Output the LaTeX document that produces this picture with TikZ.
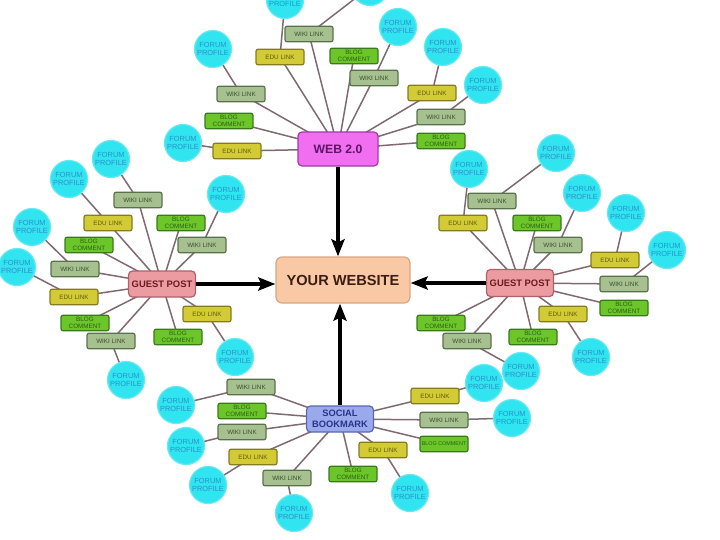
\documentclass[tikz,border=0pt]{standalone}
\usepackage{fontspec}
\setmainfont{Liberation Sans}
\usetikzlibrary{arrows.meta,calc}
\pgfdeclarelayer{bg}
\pgfsetlayers{bg,main}
\definecolor{wikif}{HTML}{A6C08F}
\definecolor{wikid}{HTML}{5A724C}
\definecolor{wikit}{HTML}{384F2C}
\definecolor{eduf}{HTML}{D3CB35}
\definecolor{edud}{HTML}{857C22}
\definecolor{edut}{HTML}{5E5810}
\definecolor{blogf}{HTML}{6CC62A}
\definecolor{blogd}{HTML}{3A7A1C}
\definecolor{blogt}{HTML}{2A5E14}
\definecolor{cyanf}{HTML}{30E4F0}
\definecolor{cyand}{HTML}{66E9F2}
\definecolor{cyant}{HTML}{2794CC}
\definecolor{linkc}{HTML}{806A72}
\definecolor{webf}{HTML}{F26EF0}
\definecolor{webd}{HTML}{A03AA8}
\definecolor{webt}{HTML}{5C1666}
\definecolor{gpf}{HTML}{EC9CA0}
\definecolor{gpd}{HTML}{B0606A}
\definecolor{gpt}{HTML}{6B1A1E}
\definecolor{sbf}{HTML}{9AA8EC}
\definecolor{sbd}{HTML}{5C68B0}
\definecolor{sbt}{HTML}{27358A}
\definecolor{sitef}{HTML}{F9C9A6}
\definecolor{sited}{HTML}{D9A684}
\definecolor{sitet}{HTML}{3B1E12}
\tikzset{
  leaf/.style={draw, rounded corners=2pt, line width=1.2pt, minimum width=48pt,
    minimum height=15.5pt, inner sep=0pt, align=center,
    font=\fontsize{6.3}{7.4}\selectfont},
  wikibox/.style={leaf, fill=wikif, draw=wikid, text=wikit},
  edubox/.style={leaf, fill=eduf, draw=edud, text=edut},
  blogbox/.style={leaf, fill=blogf, draw=blogd, text=blogt},
  blogone/.style={leaf, fill=blogf, draw=blogd, text=blogt, font=\fontsize{5.4}{6}\selectfont},
  forumc/.style={circle, fill=cyanf, draw=cyand, line width=1.2pt, minimum size=37pt,
    inner sep=0pt, align=center, text=cyant, font=\fontsize{7.4}{8.8}\selectfont},
  link/.style={draw=linkc, line width=1.5pt},
  hub/.style={draw, rounded corners=4pt, line width=1.2pt, inner sep=0pt, align=center},
  bigarrow/.style={line width=3.5pt, -{Stealth[length=17pt,width=13pt,inset=3pt]}}
}
\newcommand{\FP}{FORUM\\PROFILE}
\newcommand{\BC}{BLOG\\COMMENT}
\begin{document}
\begin{tikzpicture}[x=1pt,y=-1pt]
\useasboundingbox (0,0) rectangle (720,539);
% hubs
\node[hub, fill=sitef, draw=sited, text=sitet, minimum width=134pt, minimum height=46pt,
  rounded corners=6pt, font=\bfseries\fontsize{14.6}{16}\selectfont] (site) at (343,280) {YOUR WEBSITE};
\node[hub, fill=webf, draw=webd, text=webt, minimum width=80pt, minimum height=34pt,
  font=\bfseries\fontsize{12.2}{14}\selectfont] (web) at (338,149) {WEB 2.0};
\node[hub, fill=gpf, draw=gpd, text=gpt, minimum width=67pt, minimum height=26pt,
  font=\bfseries\fontsize{9.4}{11}\selectfont] (gpl) at (162,284) {GUEST POST};
\node[hub, fill=gpf, draw=gpd, text=gpt, minimum width=67pt, minimum height=27pt,
  font=\bfseries\fontsize{9.4}{11}\selectfont] (gpr) at (520,283) {GUEST POST};
\node[hub, fill=sbf, draw=sbd, text=sbt, minimum width=67pt, minimum height=26pt,
  font=\bfseries\fontsize{9.3}{11}\selectfont] (sb) at (340,419) {SOCIAL\\BOOKMARK};
% top cluster
\node[wikibox] (t1) at (309,34) {WIKI LINK};
\node[forumc] (t1c) at (370,-13) {\FP};
\node[edubox] (t2) at (280,57) {EDU LINK};
\node[forumc] (t2c) at (285,0) {\FP};
\node[blogbox] (t3) at (354,56) {\BC};
\node[wikibox] (t4) at (374,78) {WIKI LINK};
\node[forumc] (t4c) at (398,27) {\FP};
\node[edubox] (t5) at (432,93) {EDU LINK};
\node[forumc] (t5c) at (443,47) {\FP};
\node[wikibox] (t6) at (441,117) {WIKI LINK};
\node[forumc] (t6c) at (483,85) {\FP};
\node[blogbox] (t7) at (441,141) {\BC};
\node[wikibox] (t8) at (241,94) {WIKI LINK};
\node[forumc] (t8c) at (213,49) {\FP};
\node[blogbox] (t9) at (229,121) {\BC};
\node[edubox] (t10) at (237,151) {EDU LINK};
\node[forumc] (t10c) at (183,143) {\FP};
% left cluster
\node[wikibox] (l1) at (138,200) {WIKI LINK};
\node[forumc] (l1c) at (111,159) {\FP};
\node[edubox] (l2) at (108,223) {EDU LINK};
\node[forumc] (l2c) at (69,179) {\FP};
\node[blogbox] (l3) at (181,223) {\BC};
\node[wikibox] (l4) at (202,245) {WIKI LINK};
\node[forumc] (l4c) at (226,194) {\FP};
\node[blogbox] (l5) at (89,245) {\BC};
\node[wikibox] (l6) at (75,269) {WIKI LINK};
\node[forumc] (l6c) at (32,227) {\FP};
\node[edubox] (l7) at (74,297) {EDU LINK};
\node[forumc] (l7c) at (17,267) {\FP};
\node[blogbox] (l8) at (85,323) {\BC};
\node[wikibox] (l9) at (111,341) {WIKI LINK};
\node[forumc] (l9c) at (126,380) {\FP};
\node[blogbox] (l10) at (178,337) {\BC};
\node[edubox] (l11) at (207,314) {EDU LINK};
\node[forumc] (l11c) at (235,357) {\FP};
% right cluster
\node[edubox] (r1) at (463,223) {EDU LINK};
\node[forumc] (r1c) at (469,169) {\FP};
\node[wikibox] (r2) at (492,201) {WIKI LINK};
\node[forumc] (r2c) at (556,153) {\FP};
\node[blogbox] (r3) at (537,223) {\BC};
\node[wikibox] (r4) at (558,245) {WIKI LINK};
\node[forumc] (r4c) at (582,193) {\FP};
\node[edubox] (r5) at (615,260) {EDU LINK};
\node[forumc] (r5c) at (626,213) {\FP};
\node[wikibox] (r6) at (624,284) {WIKI LINK};
\node[forumc] (r6c) at (667,250) {\FP};
\node[blogbox] (r7) at (624,308) {\BC};
\node[edubox] (r8) at (563,314) {EDU LINK};
\node[forumc] (r8c) at (591,357) {\FP};
\node[blogbox] (r9) at (533,337) {\BC};
\node[wikibox] (r10) at (467,341) {WIKI LINK};
\node[forumc] (r10c) at (521,371) {\FP};
\node[blogbox] (r11) at (441,323) {\BC};
% bottom cluster
\node[edubox] (b1) at (435,396) {EDU LINK};
\node[forumc] (b1c) at (484,383) {\FP};
\node[wikibox] (b2) at (444,420) {WIKI LINK};
\node[forumc] (b2c) at (512,418) {\FP};
\node[blogone] (b3) at (444,444) {BLOG COMMENT};
\node[edubox] (b4) at (383,450) {EDU LINK};
\node[forumc] (b4c) at (410,493) {\FP};
\node[blogbox] (b5) at (353,474) {\BC};
\node[wikibox] (b6) at (251,387) {WIKI LINK};
\node[forumc] (b6c) at (176,405) {\FP};
\node[blogbox] (b7) at (242,411) {\BC};
\node[wikibox] (b8) at (242,432) {WIKI LINK};
\node[forumc] (b8c) at (186,446) {\FP};
\node[edubox] (b9) at (253,457) {EDU LINK};
\node[forumc] (b9c) at (208,485) {\FP};
\node[wikibox] (b10) at (287,478) {WIKI LINK};
\node[forumc] (b10c) at (294,513) {\FP};
% connectors
\begin{pgfonlayer}{bg}
\fill[white] (0,0) rectangle (720,539);
\foreach \a/\b in {t1/web,t2/web,t3/web,t4/web,t5/web,t6/web,t7/web,t8/web,t9/web,t10/web,
  t1c/t1,t2c/t2,t4c/t4,t5c/t5,t6c/t6,t8c/t8,t10c/t10,
  l1/gpl,l2/gpl,l3/gpl,l4/gpl,l5/gpl,l6/gpl,l7/gpl,l8/gpl,l9/gpl,l10/gpl,l11/gpl,
  l1c/l1,l2c/l2,l4c/l4,l6c/l6,l7c/l7,l9c/l9,l11c/l11,
  r1/gpr,r2/gpr,r3/gpr,r4/gpr,r5/gpr,r6/gpr,r7/gpr,r8/gpr,r9/gpr,r10/gpr,r11/gpr,
  r1c/r1,r2c/r2,r4c/r4,r5c/r5,r6c/r6,r8c/r8,r10c/r10,
  b1/sb,b2/sb,b3/sb,b4/sb,b5/sb,b6/sb,b7/sb,b8/sb,b9/sb,b10/sb,
  b1c/b1,b2c/b2,b4c/b4,b6c/b6,b8c/b8,b9c/b9,b10c/b10}
  {\draw[link] (\a.center) -- (\b.center);}
\end{pgfonlayer}
% big arrows
\draw[bigarrow] (web.south) -- (web.south |- site.north);
\draw[bigarrow] (gpl.east) -- (gpl.east -| site.west);
\draw[bigarrow] (gpr.west) -- (gpr.west -| site.east);
\draw[bigarrow] (sb.north) -- (sb.north |- site.south);
\end{tikzpicture}
\end{document}
